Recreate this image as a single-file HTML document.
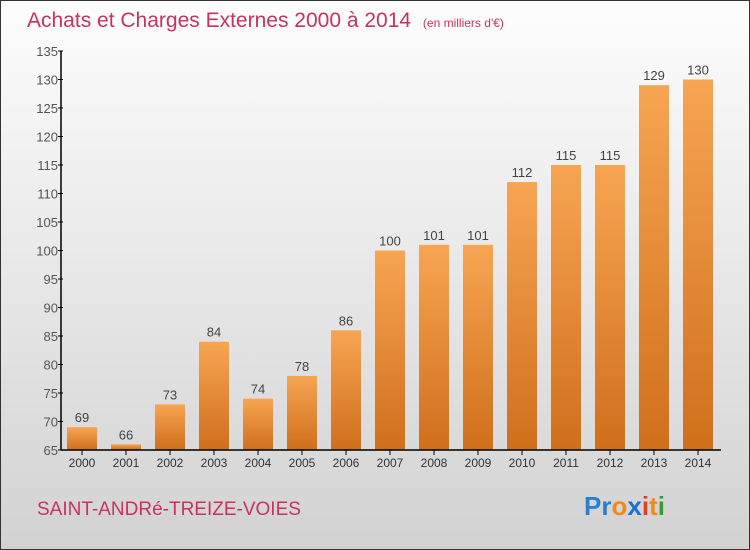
<!DOCTYPE html>
<html><head><meta charset="utf-8"><style>
body{margin:0}
#c{width:748px;height:548px;border:1px solid #333;position:relative;background:linear-gradient(#fdfdfd,#d2d2d2);font-family:"Liberation Sans",sans-serif;overflow:hidden}
</style></head><body>
<div id="c">
<svg width="748" height="548">
<defs><linearGradient id="bg" x1="0" y1="0" x2="0" y2="1"><stop offset="0" stop-color="#f7a552"/><stop offset="1" stop-color="#cf6f1c"/></linearGradient></defs>
<text x="26" y="26" font-size="21" fill="#c8325e">Achats et Charges Externes 2000 à 2014 <tspan font-size="12" dx="6">(en milliers d'€)</tspan></text>
<g id="plot"></g>
<text x="36" y="514" font-size="19" fill="#c8325e">SAINT-ANDRé-TREIZE-VOIES</text>
<text x="583" y="514" font-size="26" font-weight="bold"><tspan fill="#2a7fd0">Pr</tspan><tspan fill="#f08a1c">o</tspan><tspan fill="#1a6fd0">x</tspan><tspan fill="#e04020">i</tspan><tspan fill="#f08a1c">t</tspan><tspan fill="#3a9a3a">i</tspan></text>
</svg></div>
<script>
const years=["2000","2001","2002","2003","2004","2005","2006","2007","2008","2009","2010","2011","2012","2013","2014"];
const values=[69,66,73,84,74,78,86,100,101,101,112,115,115,129,130];
const ticks=[65,70,75,80,85,90,95,100,105,110,115,120,125,130,135];
const NS="http://www.w3.org/2000/svg";
const g=document.getElementById('plot');
const y=v=>449-(v-65)*(399/70);
const x=i=>81+i*44;
function mk(t,a,txt){const e=document.createElementNS(NS,t);for(const k in a)e.setAttribute(k,a[k]);if(txt!==undefined)e.textContent=txt;g.appendChild(e);return e;}
ticks.forEach(t=>{
 const l=mk('line',{x1:57,x2:62,y1:y(t),y2:y(t),stroke:'#000'});
 
 
 const tx=mk('text',{x:57,y:y(t)+5,'text-anchor':'end','font-size':13,fill:'#555'},t);
 
 
});
values.forEach((v,i)=>{
 const r=mk('rect',{x:x(i)-15,y:y(v),width:30,height:y(65)-y(v),fill:'url(#bg)'});
 
 
 const t=mk('text',{x:x(i),y:y(v)-5,'text-anchor':'middle','font-size':13,fill:'#444'},v);
 
 
 const k=mk('line',{x1:x(i),x2:x(i),y1:449,y2:454,stroke:'#000'});
 
 
 const yl=mk('text',{x:x(i),y:466,'text-anchor':'middle','font-size':12,fill:'#333'},years[i]);
 
 
});
const ya=mk('line',{x1:60,x2:60,y1:y(135),y2:449,stroke:'#000','stroke-width':1.5});


const xa=mk('line',{x1:60,x2:720,y1:449,y2:449,stroke:'#000','stroke-width':1.5});


</script>
</body></html>
